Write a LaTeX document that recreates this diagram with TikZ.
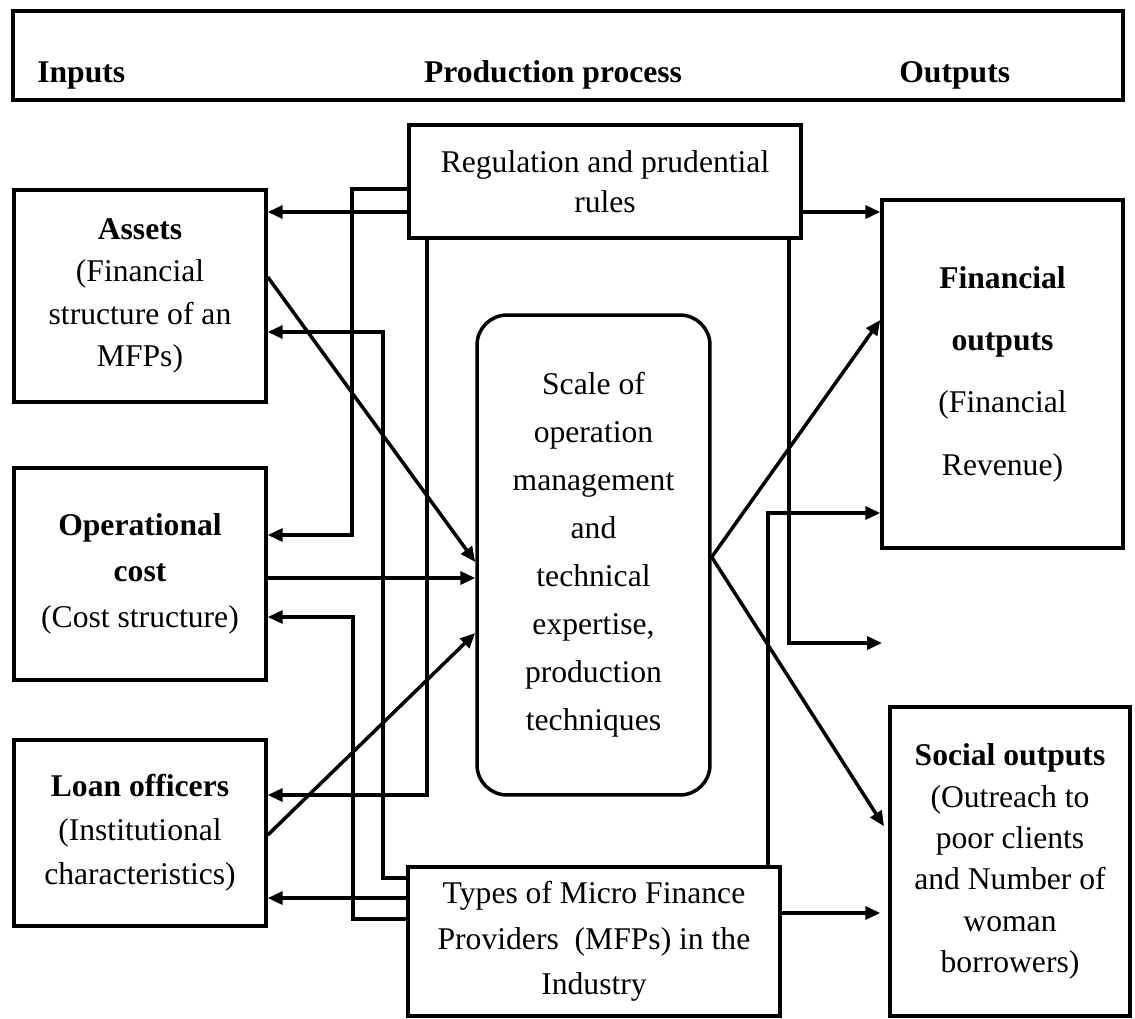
\documentclass[tikz,border=0pt]{standalone}
\usepackage{fontspec}
\setmainfont{Liberation Serif}
\usepackage{tikz}
\usetikzlibrary{arrows.meta}

\begin{document}
\begin{tikzpicture}[x=0.02cm, y=-0.02cm,
		box/.style={draw, line width=0.07cm, align=center, inner sep=0pt,
			font=\fontsize{18}{#1}\selectfont},
		box/.default=24,
		headtext/.style={inner sep=0pt, anchor=base, font=\fontsize{18}{24}\selectfont\bfseries},
		link/.style={line width=0.07cm, -{Triangle[length=0.3cm,width=0.26cm]}}]

		\useasboundingbox (0,0) rectangle (1135,1018);

		% HEADER
		\node[box, minimum width=22.2cm, minimum height=1.78cm] (header) at (568,55.5) {};
		\node[headtext, anchor=base west] (inputs) at (37,82) {Inputs};
		\node[headtext] (process) at (553,82) {Production process};
		\node[headtext, anchor=base west] (outputs) at (899,82) {Outputs};

		% INPUTS
		\node[box=24, minimum width=5.04cm, minimum height=4.24cm] (assets) at (140,296)
			{\textbf{Assets}\\(Financial\\structure of an\\MFPs)};
		\node[box=26, minimum width=5.04cm, minimum height=4.24cm] (opcost) at (140,574)
			{\textbf{Operational}\\\textbf{cost}\\(Cost structure)};
		\node[box=25, minimum width=5.04cm, minimum height=3.72cm] (loan) at (140,833)
			{\textbf{Loan officers}\\(Institutional\\characteristics)};

		% PRODUCTION PROCESS
		\node[box=22.7, minimum width=7.84cm, minimum height=2.26cm] (reg) at (605,181.5)
			{Regulation and prudential\\rules};
		\node[box=27.3, rounded corners=0.6cm, minimum width=4.66cm, minimum height=9.6cm] (central) at (593.5,555)
			{Scale of\\operation\\management\\and\\technical\\expertise,\\production\\techniques};
		\node[box=26, minimum width=7.44cm, minimum height=2.98cm] (types) at (594,941.5)
			{Types of Micro Finance\\Providers~~(MFPs) in the\\Industry};

		% OUTPUTS
		\node[box=35.5, minimum width=4.82cm, minimum height=6.96cm] (fin) at (1002.5,374)
			{\textbf{Financial}\\\textbf{outputs}\\(Financial\\Revenue)};
		\node[box=23.5, minimum width=4.8cm, minimum height=6.18cm] (social) at (1010,861.5)
			{\textbf{Social outputs}\\(Outreach to\\poor clients\\and Number of\\woman\\borrowers)};
		\coordinate (free) at (882,643);

		% regulation and prudential rules
		\draw[link] (reg.west |- 0,212) -- (assets.east |- 0,212);
		\draw[link] (reg.east |- 0,212) -- (fin.west |- 0,212);
		\draw[link] (reg.west |- 0,189) -- (352,189) -- (352,535) -- (opcost.east |- 0,535);
		\draw[link] (427,0 |- reg.south) -- (427,795) -- (loan.east |- 0,795);
		\draw[link] (789,0 |- reg.south) -- (789,643) -- (free);

		% types of providers
		\draw[link] (types.west |- 0,878) -- (383,878) -- (383,332) -- (assets.east |- 0,332);
		\draw[link] (types.west |- 0,919) -- (353,919) -- (353,617) -- (opcost.east |- 0,617);
		\draw[link] (types.west |- 0,898) -- (loan.east |- 0,898);
		\draw[link] (768,0 |- types.north) -- (768,513) -- (fin.west |- 0,513);
		\draw[link, shorten >=0.16cm] (types.east |- 0,913) -- (social.west |- 0,913);

		% inputs to the process, process to outputs
		\draw[link] (assets.east |- 0,277) -- (central.west |- 0,562);
		\draw[link] (opcost.east |- 0,578) -- (central.west |- 0,578);
		\draw[link] (loan.east |- 0,835) -- (central.west |- 0,633);
		\draw[link] (central.east |- 0,557) -- (fin.west |- 0,320);
		\draw[link, shorten >=0.16cm] (central.east |- 0,557) -- (social.west |- 0,833);

	\end{tikzpicture}
\end{document}
